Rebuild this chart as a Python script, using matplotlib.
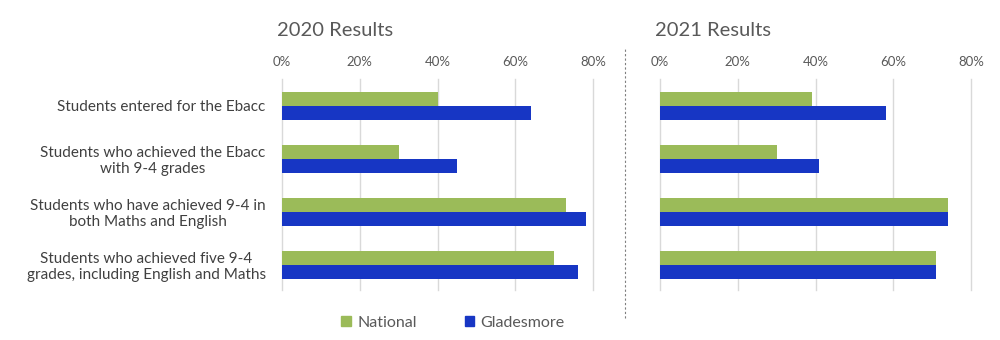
import numpy as np
import matplotlib.pyplot as plt
from matplotlib.lines import Line2D
from matplotlib.patches import Patch

categories = [
    "Students entered for the Ebacc",
    "Students who achieved the Ebacc\nwith 9-4 grades",
    "Students who have achieved 9-4 in\nboth Maths and English",
    "Students who achieved five 9-4\ngrades, including English and Maths",
]
national_2020 = [40, 30, 73, 70]
gladesmore_2020 = [64, 45, 78, 76]
national_2021 = [39, 30, 74, 71]
gladesmore_2021 = [58, 41, 74, 71]
ticks = [0, 20, 40, 60, 80]

GREEN = "#9BBB59"
BLUE = "#1736C4"
TEXT = "#595959"

plt.rcParams['font.family'] = ['Lato', 'DejaVu Sans']

fig = plt.figure(figsize=(10, 3.4), dpi=100)
ax1 = fig.add_axes([0.2817, 0.147, 0.3116, 0.62])
ax2 = fig.add_axes([0.6597, 0.147, 0.3116, 0.62])

y = np.arange(len(categories))
h = 0.265

def draw(ax, nat, glad, title, labels):
    ax.barh(y - h / 2, nat, height=h, color=GREEN, zorder=3)
    ax.barh(y + h / 2, glad, height=h, color=BLUE, zorder=3)
    ax.set_xlim(0, 80)
    ax.set_ylim(3.48, -0.5)
    ax.set_xticks(ticks)
    ax.set_xticklabels([f"{t}%" for t in ticks])
    ax.xaxis.tick_top()
    ax.tick_params(axis='x', length=0, labelsize=9.5, labelcolor=TEXT, pad=8)
    ax.grid(axis='x', color="#D9D9D9", linewidth=1, zorder=0)
    for gl in ax.get_xgridlines():
        gl.set_clip_on(False)
    for s in ax.spines.values():
        s.set_visible(False)
    ax.set_yticks(y)
    if labels:
        ax.set_yticklabels(categories, fontsize=11, color="#404040",
                           linespacing=1.15, multialignment='center')
        ax.tick_params(axis='y', length=0, pad=11.5)
    else:
        ax.set_yticklabels([])
        ax.tick_params(axis='y', length=0)
    ax.text(-0.015, 1.229, title, transform=ax.transAxes, fontsize=14.5,
            color=TEXT, ha='left', va='center')

draw(ax1, national_2020, gladesmore_2020, "2020 Results", True)
draw(ax2, national_2021, gladesmore_2021, "2021 Results", False)

fig.add_artist(Line2D([0.625, 0.625], [0.065, 0.86], color="#7F7F7F",
                      linestyle=(0, (2, 2)), linewidth=0.8))

handles = [Patch(color=GREEN, label="National"), Patch(color=BLUE, label="Gladesmore")]
fig.legend(handles=handles, loc='center', bbox_to_anchor=(0.453, 0.05), ncol=2,
           frameon=False, fontsize=11.5, handlelength=0.6, handleheight=0.6,
           columnspacing=3.0, handletextpad=0.4, labelcolor=TEXT)

fig.savefig("out.png", dpi=100)
